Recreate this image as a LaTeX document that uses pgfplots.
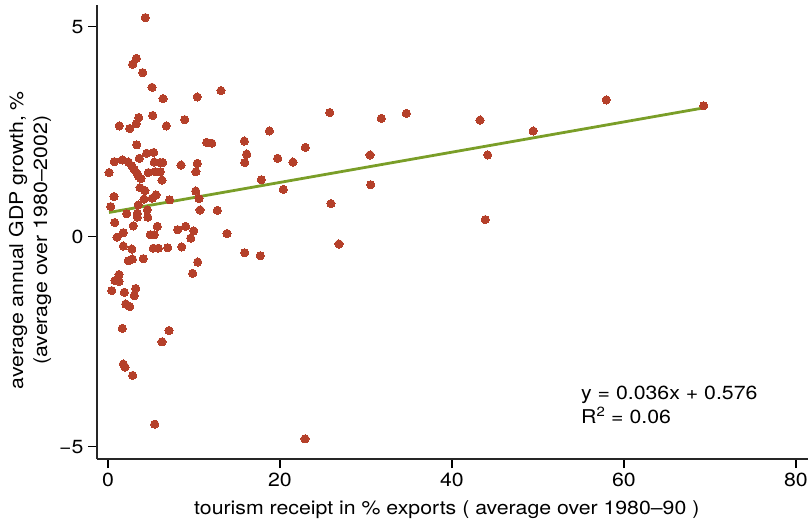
\documentclass[border=0pt]{standalone}
\usepackage{fontspec}
\setmainfont{TeX Gyre Heros}[FakeStretch=1.12]
\usepackage{pgfplots}
\pgfplotsset{compat=1.18}
\definecolor{dotred}{RGB}{181,64,42}
\definecolor{fitgreen}{RGB}{122,158,40}
\begin{document}
\begin{tikzpicture}[font=\fontsize{19bp}{24bp}\selectfont]
\begin{axis}[
  scale only axis, width=711bp, height=454bp,
  xmin=-1.28, xmax=81.4, ymin=-5.29, ymax=5.52,
  axis x line*=bottom, axis y line*=left,
  xtick={0,20,40,60,80}, ytick={-5,0,5},
  yticklabels={−5,0,5},
  tick align=outside, major tick length=9bp,
  tick style={black, line width=1.1bp},
  axis line style={black!85, line width=1.3bp},
  /pgf/number format/assume math mode=true,
  xticklabel style={yshift=-2bp},
  yticklabel style={xshift=-1bp},
  xlabel={tourism receipt in \% exports ( average over 1980–90 )},
  ylabel={average annual GDP growth, \%\\(average over 1980–2002)},
  xlabel style={at={(axis description cs:0.492,-0.112)}, anchor=center},
  ylabel style={align=center, at={(axis description cs:-0.094,0.482)}, anchor=center},
  clip=false,
]
\addplot[only marks, mark=*, mark size=4.1bp, color=dotred, mark options={solid, draw=dotred, fill=dotred, line width=0pt}] coordinates {
(4.34,5.22) (3.29,4.25) (2.87,4.11) (4.03,3.91) (5.12,3.56) (6.40,3.29) (10.38,3.33)
(3.57,2.84) (5.20,2.89) (8.92,2.79) (3.29,2.69) (1.31,2.64) (2.52,2.58) (6.78,2.64)
(13.14,3.48) (3.34,2.19) (11.48,2.25) (12.06,2.23) (4.50,1.99) (5.31,2.01) (3.64,1.87)
(0.73,1.79) (1.66,1.83) (2.36,1.78) (2.76,1.69) (3.06,1.60) (3.34,1.52) (3.52,1.45)
(3.84,1.39) (5.38,1.78) (6.05,1.77) (6.36,1.77) (8.49,1.71) (10.38,1.75) (0.12,1.53)
(4.69,1.53) (5.47,1.55) (6.08,1.55) (10.23,1.55) (6.28,1.35) (3.72,1.17) (4.30,1.10)
(0.70,0.96) (5.58,1.00) (5.15,0.92) (4.19,0.90) (7.17,0.88) (10.20,1.09) (10.58,0.91)
(0.31,0.72) (3.52,0.76) (4.57,0.64) (2.17,0.55) (3.41,0.56) (3.41,0.47) (4.62,0.47)
(10.70,0.64) (0.78,0.34) (2.94,0.26) (5.73,0.25) (8.10,0.17) (9.03,0.25) (9.97,0.14)
(1.78,0.10) (4.92,0.05) (5.38,0.05) (1.05,-0.01) (9.62,-0.03) (1.78,-0.22) (2.76,-0.29)
(5.27,-0.27) (5.85,-0.27) (6.94,-0.26) (8.57,-0.24) (2.36,-0.57) (2.83,-0.53) (4.10,-0.52)
(10.43,-0.60) (9.85,-0.87) (1.28,-0.90) (0.81,-1.04) (1.28,-1.06) (0.43,-1.28) (1.90,-1.32)
(3.22,-1.23) (3.06,-1.40) (2.06,-1.60) (2.52,-1.66) (1.66,-2.18) (7.09,-2.23) (6.28,-2.50)
(1.78,-3.03) (1.98,-3.10) (2.87,-3.30) (5.43,-4.46) (22.91,-4.81)
(25.78,2.96) (18.76,2.52) (15.85,2.28) (16.13,1.97) (15.90,1.77) (19.73,1.87) (21.51,1.78)
(22.94,2.13) (17.83,1.36) (20.38,1.13) (12.71,0.63) (25.93,0.79) (13.84,0.08) (26.86,-0.17)
(15.90,-0.38) (17.71,-0.45)
(31.78,2.82) (34.69,2.94) (43.26,2.78) (57.94,3.26) (69.27,3.12) (49.45,2.52)
(30.47,1.95) (44.15,1.95) (30.55,1.24) (43.87,0.41)
};
\addplot[fitgreen, line width=2.8bp] coordinates {(0.12,0.580) (69.27,3.070)};
\node[anchor=north west, align=left, inner sep=0pt] at (axis cs:55.0,-3.55)
  {y = 0.036x + 0.576\\R\textsuperscript{2} = 0.06};
\end{axis}
\pgfresetboundingbox
\path[use as bounding box] ([shift={(-97bp,-63bp)}]current axis.south west) rectangle ([shift={(2bp,5bp)}]current axis.north east);
\end{tikzpicture}
\end{document}
